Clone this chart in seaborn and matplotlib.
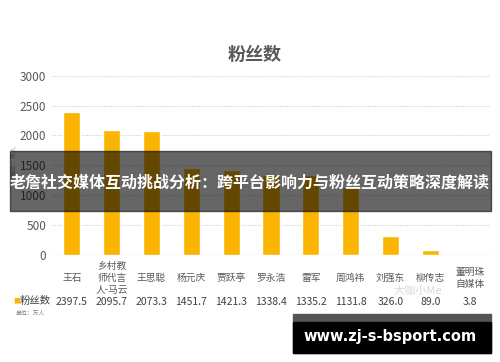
import pandas as pd
import seaborn as sns
import matplotlib.pyplot as plt
from matplotlib.patches import Rectangle

# data (万人)
names = ['王石', '乡村教\n师代言\n人-马云', '王思聪', '杨元庆', '贾跃亭', '罗永浩',
         '雷军', '周鸿祎', '刘强东', '柳传志', '董明珠\n自媒体']
fans = [2397.5, 2095.7, 2073.3, 1451.7, 1421.3, 1338.4, 1335.2, 1131.8, 326.0, 89.0, 3.8]
value_labels = ['2397.5', '2095.7', '2073.3', '1451.7', '1421.3', '1338.4',
                '1335.2', '1131.8', '326.0', '89.0', '3.8']
yticks = [0, 500, 1000, 1500, 2000, 2500, 3000]

df = pd.DataFrame({'name': names, 'fans': fans})

sns.set_style('white')
plt.rcParams['font.family'] = ['Noto Sans CJK SC', 'DejaVu Sans']

bar_color = '#FBB400'
grey = '#595959'

fig = plt.figure(figsize=(5, 3.62), dpi=100)
ax = fig.add_axes([52 / 500, 1 - 255 / 362, 438 / 500, 179.3 / 362])

sns.barplot(data=df, x='name', y='fans', color=bar_color, width=0.43,
            saturation=1, ax=ax)
ax.set_xlim(-0.5, len(names) - 0.5)
ax.set_ylim(0, 3000)
ax.set_yticks(yticks)
ax.set_yticklabels([str(t) for t in yticks], color=grey, fontsize=8.5)
ax.tick_params(axis='y', length=0, pad=4)
ax.tick_params(axis='x', length=0, pad=0)
ax.set_xticklabels([])
ax.set_xlabel('')
ax.set_ylabel('')
for s in ax.spines.values():
    s.set_visible(False)
for t in yticks[1:]:
    ax.axhline(t, color='#d0d0d0', lw=0.8, ls=(0, (1, 1.2)), zorder=0)
ax.axhline(0, color='#d0d0d0', lw=0.9, zorder=0)

# category labels and data row
for i, n in enumerate(names):
    x_fig = (52 + (i + 0.5) * 438 / 11) / 500
    fig.text(x_fig, 1 - 278 / 362, n, ha='center', va='center', fontsize=7,
             color=grey, linespacing=1.3)
    fig.text(x_fig, 1 - 302 / 362, value_labels[i], ha='center', va='center',
             fontsize=7.5, color='#404040')

fig.text(13 / 500, 1 - 301 / 362, '■', color=bar_color, fontsize=5,
         ha='left', va='center')
fig.text(20 / 500, 1 - 301 / 362, '粉丝数', color='#404040', fontsize=7.5,
         ha='left', va='center')
fig.text(16 / 500, 1 - 313 / 362, '单位：万人', color='#808080', fontsize=4.2,
         ha='left', va='center')
fig.text(13 / 500, 1 - 160 / 362, '单位：万人', color='#a0a0a0', fontsize=4.5,
         rotation=90, ha='center', va='center')

fig.text(255 / 500, 1 - 54 / 362, '粉丝数', color=grey, fontsize=13,
         fontweight='bold', ha='center', va='center')

# faint watermark
fig.text(418 / 500, 1 - 290.5 / 362, '大咖小Me', color='#cfcfcf', fontsize=8,
         ha='center', va='center', alpha=0.8)

# dark overlay banner with headline
fig.patches.append(Rectangle((10 / 500, 1 - 211 / 362), 481 / 500, 60 / 362,
                             transform=fig.transFigure, color='black',
                             alpha=0.6, zorder=5))
fig.text(250 / 500, 1 - 183 / 362,
         '老詹社交媒体互动挑战分析：跨平台影响力与粉丝互动策略深度解读',
         color='white', fontsize=11.5, fontweight='bold', ha='center',
         va='center', zorder=6)

# site banner bottom right
fig.patches.append(Rectangle((293 / 500, 1 - 353 / 362), 198 / 500, 39 / 362,
                             transform=fig.transFigure, color='#555555',
                             zorder=5))
fig.patches.append(Rectangle((293 / 500, 1 - 353 / 362), 198 / 500, 31 / 362,
                             transform=fig.transFigure, color='black',
                             zorder=5))
fig.text(390 / 500, 1 - 336 / 362, 'www.zj-s-bsport.com', color='white',
         fontsize=10.5, fontweight='bold', ha='center', va='center', zorder=6,
         family='DejaVu Sans')

fig.savefig('out.png', dpi=100)
